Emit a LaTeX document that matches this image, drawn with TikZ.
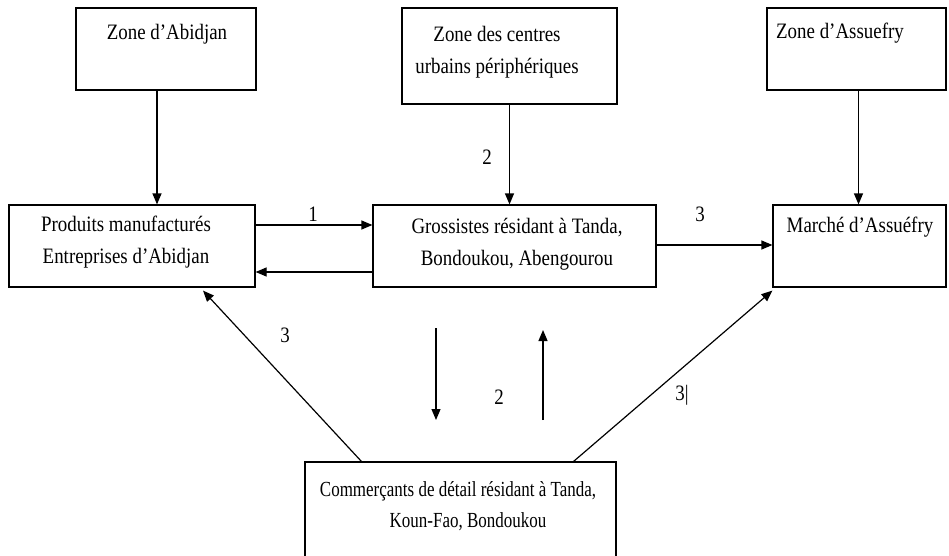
\documentclass[tikz,border=0pt]{standalone}
\usepackage{fontspec}
\setmainfont{Liberation Serif}[FakeStretch=0.86]
\newfontfamily\narrowfont{Liberation Serif}[FakeStretch=0.79]
\usetikzlibrary{arrows.meta,positioning,calc}
\tikzset{
  box/.style={draw=black,fill=white,line width=1.2pt,inner sep=0pt},
  txt/.style={font=\fontsize{22}{32}\selectfont,align=center,inner sep=0pt},
  arr/.style={-{Triangle[length=11pt,width=9pt]},line width=1.2pt,draw=black},
  num/.style={font=\fontsize{22}{24}\selectfont,inner sep=0pt},
}
\begin{document}
\begin{tikzpicture}[x=1pt,y=-1pt]
  \useasboundingbox[fill=white] (0,0) rectangle (949,556);
  % zones du haut
  \node[box,minimum width=180pt,minimum height=82pt] (zabj) at (166,49) {};
  \node[box,minimum width=215pt,minimum height=96pt] (zcen) at (509.5,56) {};
  \node[box,minimum width=179pt,minimum height=82pt] (zass) at (856.5,49) {};
  \node[txt] (tabj) at (167,34) {Zone d’Abidjan};
  \node[txt] (tcen) at (497,52) {Zone des centres\\urbains périphériques};
  \node[txt] (tass) at (840,33) {Zone d’Assuefry};
  % acteurs
  \node[box,minimum width=246pt,minimum height=82pt] (prod) at (132,246) {};
  \node[box,minimum width=283pt,minimum height=82pt] (gros) at (514.5,246) {};
  \node[box,minimum width=173pt,minimum height=82pt] (marc) at (859.5,246) {};
  \node[txt] (tprod) at (126,242) {Produits manufacturés\\Entreprises d’Abidjan};
  \node[txt] (tgros) at (517,244) {Grossistes résidant à Tanda,\\Bondoukou, Abengourou};
  \node[txt] (tmarc) at (860,227) {Marché d’Assuéfry};
  \begin{scope}
    \clip (0,0) rectangle (949,556);
    \node[box,minimum width=311pt,minimum height=112pt] (comm) at (460.5,518) {};
  \end{scope}
  \node[txt,font=\narrowfont\fontsize{21.5}{31}\selectfont] (tcomm) at (458,506) {Commerçants de détail résidant à Tanda,\\\hspace*{20pt}Koun-Fao, Bondoukou};
  % fleches
  \draw[arr] ([xshift=-9pt]zabj.south) -- ([xshift=-9pt]zabj.south |- prod.north);
  \draw[arr] (zcen.south) -- (zcen.south |- gros.north);
  \draw[arr] ([xshift=2pt]zass.south) -- ([xshift=2pt]zass.south |- marc.north);
  \draw[arr] ([yshift=21pt]prod.east) -- ([yshift=21pt]gros.west);
  \draw[arr] ([yshift=-26pt]gros.west) -- ([yshift=-26pt]prod.east);
  \draw[arr] ([yshift=1pt]gros.east) -- ([yshift=1pt]marc.west);
  \draw[arr] ([xshift=57pt]comm.north west) -- ([xshift=71pt,yshift=-3pt]prod.south);
  \draw[arr] ([xshift=-43pt]comm.north east) -- ([yshift=-3pt]marc.south west);
  \coordinate (d1) at (436,328);
  \coordinate (d2) at (436,420);
  \coordinate (u1) at (543,420);
  \coordinate (u2) at (543,330);
  \draw[arr] (d1) -- (d2);
  \draw[arr] (u1) -- (u2);
  % numeros
  \node[num] (n1) at (313,214) {1};
  \node[num] (n2a) at (487,157) {2};
  \node[num] (n3a) at (700,214) {3};
  \node[num] (n3b) at (285,335) {3};
  \node[num] (n2b) at (499,397) {2};
  \node[num] (n3c) at (682,395) {3|};
\end{tikzpicture}
\end{document}
